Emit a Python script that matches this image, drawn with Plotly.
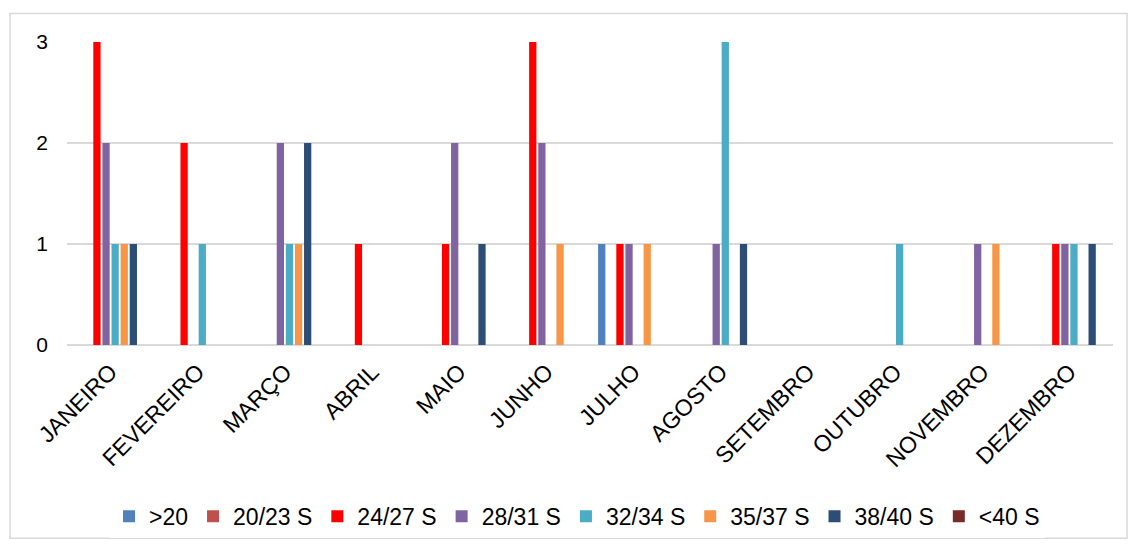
import plotly.graph_objects as go

months = ["JANEIRO", "FEVEREIRO", "MARÇO", "ABRIL", "MAIO", "JUNHO",
          "JULHO", "AGOSTO", "SETEMBRO", "OUTUBRO", "NOVEMBRO", "DEZEMBRO"]

series_names = [">20", "20/23 S", "24/27 S", "28/31 S", "32/34 S", "35/37 S", "38/40 S", "<40 S"]

s_gt20 = [0, 0, 0, 0, 0, 0, 1, 0, 0, 0, 0, 0]
s_20_23 = [0, 0, 0, 0, 0, 0, 0, 0, 0, 0, 0, 0]
s_24_27 = [3, 2, 0, 1, 1, 3, 1, 0, 0, 0, 0, 1]
s_28_31 = [2, 0, 2, 0, 2, 2, 1, 1, 0, 0, 1, 1]
s_32_34 = [1, 1, 1, 0, 0, 0, 0, 3, 0, 1, 0, 1]
s_35_37 = [1, 0, 1, 0, 0, 1, 1, 0, 0, 0, 1, 0]
s_38_40 = [1, 0, 2, 0, 1, 0, 0, 1, 0, 0, 0, 1]
s_lt40 = [0, 0, 0, 0, 0, 0, 0, 0, 0, 0, 0, 0]

series_values = [s_gt20, s_20_23, s_24_27, s_28_31, s_32_34, s_35_37, s_38_40, s_lt40]
colors = ["#4F81BD", "#C0504D", "#FF0000", "#8064A2", "#4BACC6", "#F79646", "#2C4D75", "#772C2A"]

FONT = "Liberation Sans, Arial, sans-serif"

fig = go.Figure()
for name, vals, col in zip(series_names, series_values, colors):
    fig.add_trace(go.Bar(
        x=months, y=vals, name=name,
        marker=dict(color=col, line=dict(width=0)),
    ))

fig.update_layout(
    width=1128, height=549,
    margin=dict(l=67, r=15, t=42, b=198),
    paper_bgcolor="white", plot_bgcolor="white",
    barmode="group", bargap=0.165, bargroupgap=0.2,
    font=dict(family=FONT, size=21, color="#000000"),
    showlegend=True,
    legend=dict(
        orientation="h", x=0.4876, xanchor="center", y=-0.565, yanchor="middle",
        font=dict(family=FONT, size=23, color="#000000"),
        traceorder="normal", itemwidth=30,
    ),
    xaxis=dict(
        tickangle=-45, showgrid=False, showline=False, zeroline=False,
        ticks="", ticklabelstandoff=8,
        tickfont=dict(family=FONT, size=23, color="#000000"),
    ),
    yaxis=dict(
        range=[0, 3], tickvals=[0, 1, 2, 3], showgrid=True, gridcolor="#D9D9D9",
        gridwidth=1.5, zeroline=True, zerolinecolor="#D9D9D9", zerolinewidth=1.5,
        showline=False, ticks="", ticklabelstandoff=18,
        tickfont=dict(family=FONT, size=21, color="#000000"),
    ),
    shapes=[dict(
        type="rect", xref="paper", yref="paper",
        x0=(10 - 67) / 1046, x1=(1127 - 67) / 1046,
        y0=(351 - 548) / 309, y1=(351 - 13) / 309,
        line=dict(color="#D9D9D9", width=1.5), fillcolor="rgba(0,0,0,0)", layer="below",
    )],
)

fig.write_html("out.html")
